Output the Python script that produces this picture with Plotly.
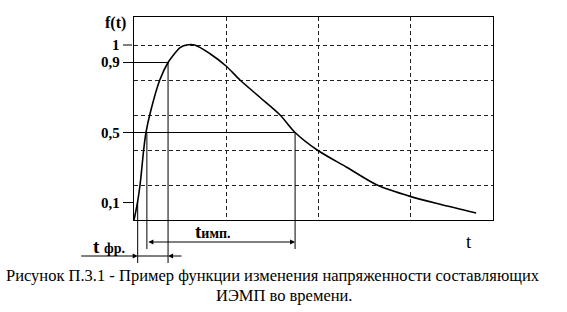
import plotly.graph_objects as go

# ---- data (time in grid units, f normalised) ----
t_vals = [0.0, 0.038, 0.07, 0.105, 0.13, 0.18, 0.28, 0.37, 0.44, 0.5, 0.57, 0.66,
          0.826, 1.0, 1.152, 1.37, 1.587, 1.75, 1.99, 2.315, 2.64, 3.0, 3.326, 3.717]
f_vals = [0.0, 0.1, 0.22, 0.4, 0.5, 0.62, 0.8, 0.9, 0.95, 0.985, 1.0, 1.0,
          0.95, 0.88, 0.8, 0.7, 0.6, 0.5, 0.4, 0.3, 0.2, 0.135, 0.09, 0.04]
level_vals = [1.0, 0.9, 0.5, 0.1]
level_text = ["1", "0,9", "0,5", "0,1"]
t_01, t_05, t_09, t_05b = 0.04, 0.14, 0.37, 1.75   # times where levels are reached
caption1 = "Рисунок П.3.1 - Пример функции изменения напряженности составляющих"
caption2 = "ИЭМП во времени."

XMAX, YMAX = 3.9, 1.16
W, H = 567, 312
L, R, T, B = 134, 74, 17, 92
PW, PH = W - L - R, H - T - B

def tp(t):  # data t -> paper x
    return t / XMAX

def fp(f):  # data f -> paper y
    return f / YMAX

def px(x):  # pixel x -> paper
    return (x - L) / PW

def py(y):  # pixel y -> paper
    return (H - B - y) / PH

SERIF = "Liberation Serif"
fig = go.Figure()
fig.add_trace(go.Scatter(x=t_vals, y=f_vals, mode="lines",
                         line=dict(color="black", width=1.6, shape="spline", smoothing=0.8),
                         hoverinfo="skip"))

shapes = []
line = dict(color="black", width=1)
# horizontal solid reference lines
shapes.append(dict(type="line", xref="paper", yref="paper", x0=0, x1=tp(t_09),
                   y0=fp(0.9), y1=fp(0.9), line=line))
shapes.append(dict(type="line", xref="paper", yref="paper", x0=0, x1=tp(t_05b),
                   y0=fp(0.5), y1=fp(0.5), line=line))
# leader lines for level labels
for lv in level_vals:
    shapes.append(dict(type="line", xref="paper", yref="paper", x0=px(123), x1=0,
                       y0=fp(lv), y1=fp(lv),
                       line=dict(color="black", width=1, dash="dash" if lv == 1.0 else "solid")))
# vertical lines extending below the axis
for tv, f0, ybot in [(t_01, 0.1, 263), (t_05, 0.5, 249), (t_09, 0.9, 263), (t_05b, 0.5, 249)]:
    shapes.append(dict(type="line", xref="paper", yref="paper", x0=tp(tv), x1=tp(tv),
                       y0=fp(f0), y1=py(ybot), line=dict(color="black", width=1)))
# middle segment of t_fr arrow
shapes.append(dict(type="line", xref="paper", yref="paper", x0=tp(t_01), x1=tp(t_09),
                   y0=py(256), y1=py(256), line=dict(color="black", width=1)))

ann = []
for lv, txt in zip(level_vals, level_text):
    ann.append(dict(x=px(122), y=fp(lv), xref="paper", yref="paper", text="<b>%s</b>" % txt,
                    showarrow=False, xanchor="right", yanchor="middle",
                    font=dict(family=SERIF, size=15, color="black")))
ann.append(dict(x=px(115), y=py(23), xref="paper", yref="paper", text="<b>f(t)</b>",
                showarrow=False, xanchor="center", yanchor="middle",
                font=dict(family=SERIF, size=16, color="black")))
ann.append(dict(x=px(469), y=py(241), xref="paper", yref="paper", text="t",
                showarrow=False, xanchor="center", yanchor="middle",
                font=dict(family=SERIF, size=19, color="black")))
ann.append(dict(x=px(213), y=py(232), xref="paper", yref="paper",
                text="<b>t</b><b><span style='font-size:14px'>имп.</span></b>",
                showarrow=False, xanchor="center", yanchor="middle",
                font=dict(family=SERIF, size=19, color="black")))
ann.append(dict(x=px(109), y=py(246), xref="paper", yref="paper",
                text="<b>t</b> <b><span style='font-size:14px'>фр.</span></b>",
                showarrow=False, xanchor="center", yanchor="middle",
                font=dict(family=SERIF, size=19, color="black")))
# arrows
arrow = dict(showarrow=True, text="", xref="paper", yref="paper", arrowhead=2,
             arrowsize=1, arrowwidth=1, arrowcolor="black", ayref="pixel", axref="pixel")
ann.append(dict(arrow, x=tp(t_05b), y=py(242), ax=-(tp(t_05b) - tp(t_05)) * PW, ay=0,
                arrowside="end+start"))
ann.append(dict(arrow, x=tp(t_01), y=py(256), ax=-58, ay=0))
ann.append(dict(arrow, x=tp(t_09), y=py(256), ax=15, ay=0))
# caption
ann.append(dict(x=px(273), y=py(275), xref="paper", yref="paper", text=caption1,
                showarrow=False, xanchor="center", yanchor="middle",
                font=dict(family=SERIF, size=16.5, color="black")))
ann.append(dict(x=px(284), y=py(295), xref="paper", yref="paper", text=caption2,
                showarrow=False, xanchor="center", yanchor="middle",
                font=dict(family=SERIF, size=16.5, color="black")))

grid = dict(showgrid=True, gridcolor="#222", griddash="4px,3px", gridwidth=1,
            showticklabels=False, ticks="", zeroline=False, showline=True,
            linecolor="black", linewidth=1, mirror=True)
fig.update_layout(
    width=W, height=H, margin=dict(l=L, r=R, t=T, b=B),
    paper_bgcolor="white", plot_bgcolor="white", showlegend=False,
    shapes=shapes, annotations=ann,
    xaxis=dict(grid, range=[0, XMAX], dtick=1, tick0=0),
    yaxis=dict(grid, range=[0, YMAX], dtick=0.2, tick0=0),
)
fig.write_html("out.html")
